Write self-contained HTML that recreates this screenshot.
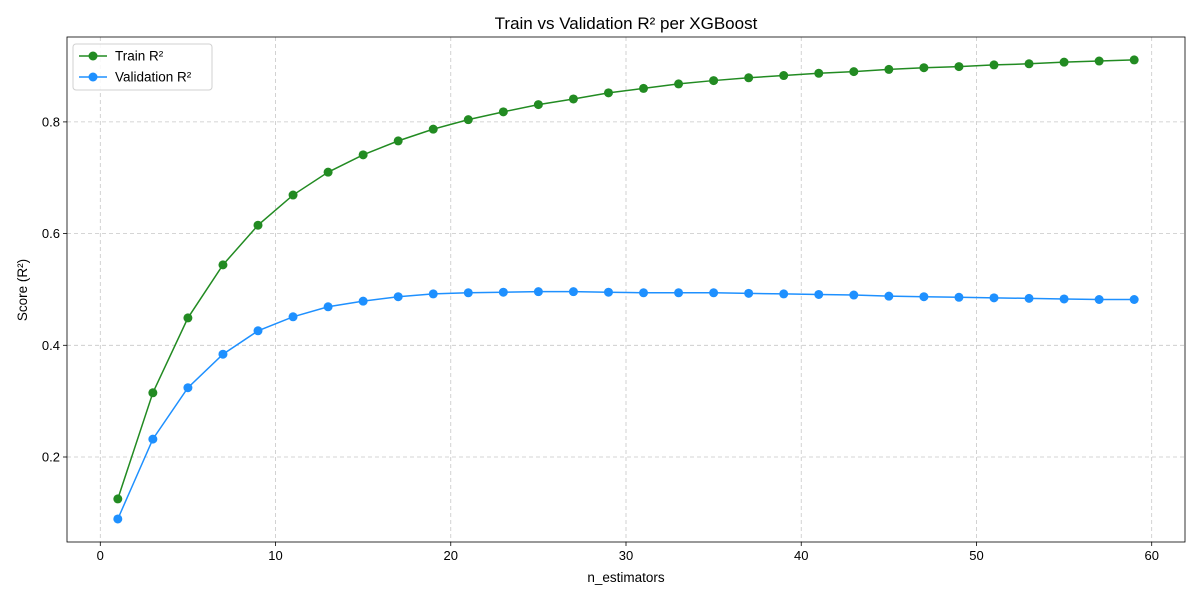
<!DOCTYPE html>
<html><head><meta charset="utf-8">
<style>
body{margin:0;background:#fff;font-family:"Liberation Sans","DejaVu Sans",sans-serif;}
svg{display:block}
text{font-family:"Liberation Sans","DejaVu Sans",sans-serif;}
</style></head>
<body>
<svg id="chart" width="1200" height="600"></svg>
<script>
const xValues=[1,3,5,7,9,11,13,15,17,19,21,23,25,27,29,31,33,35,37,39,41,43,45,47,49,51,53,55,57,59];
const trainR2=[0.125,0.315,0.449,0.544,0.615,0.669,0.710,0.741,0.766,0.787,0.804,0.818,0.831,0.841,0.852,0.860,0.868,0.874,0.879,0.883,0.887,0.890,0.894,0.897,0.899,0.902,0.904,0.907,0.909,0.911];
const valR2=[0.089,0.232,0.324,0.384,0.426,0.451,0.469,0.479,0.487,0.492,0.494,0.495,0.496,0.496,0.495,0.494,0.494,0.494,0.493,0.492,0.491,0.490,0.488,0.487,0.486,0.485,0.484,0.483,0.482,0.482];
const xTicks=[0,10,20,30,40,50,60];
const yTicks=[0.2,0.4,0.6,0.8];

const L=67,R=1185,T=37,B=542;
const xMin=-1.9,xMax=61.9,yMin=0.0478,yMax=0.952;
const sx=v=>L+(v-xMin)/(xMax-xMin)*(R-L);
const sy=v=>B-(v-yMin)/(yMax-yMin)*(B-T);
const NS="http://www.w3.org/2000/svg";
const svg=document.getElementById('chart');
function mk(tag,attrs,parent){const e=document.createElementNS(NS,tag);for(const k in attrs)e.setAttribute(k,attrs[k]);(parent||svg).appendChild(e);return e;}

xTicks.forEach(t=>{
  const g=mk('line',{x1:sx(t),x2:sx(t),y1:T,y2:B,stroke:'#b0b0b0','stroke-width':0.8,'stroke-dasharray':'4,3',opacity:0.7});
  
  
  mk('line',{x1:sx(t),x2:sx(t),y1:B,y2:B+4,stroke:'#000','stroke-width':0.8});
  const tx=mk('text',{x:sx(t),y:B+18,'text-anchor':'middle','font-size':13});
  tx.textContent=t;
  
  
});
yTicks.forEach(t=>{
  const g=mk('line',{x1:L,x2:R,y1:sy(t),y2:sy(t),stroke:'#b0b0b0','stroke-width':0.8,'stroke-dasharray':'4,3',opacity:0.7});
  
  
  mk('line',{x1:L-4,x2:L,y1:sy(t),y2:sy(t),stroke:'#000','stroke-width':0.8});
  const tx=mk('text',{x:L-7,y:sy(t)+4.5,'text-anchor':'end','font-size':13});
  tx.textContent=t.toFixed(1);
  
  
});
const frame=mk('rect',{x:L,y:T,width:R-L,height:B-T,fill:'none',stroke:'#000','stroke-width':0.8});



function series(vals,color,name){
  const pl=mk('polyline',{points:xValues.map((x,i)=>sx(x)+','+sy(vals[i])).join(' '),fill:'none',stroke:color,'stroke-width':1.5});
  
  
  xValues.forEach((x,i)=>{
    const c=mk('circle',{cx:sx(x),cy:sy(vals[i]),r:4.5,fill:color});
    
    
  });
}
series(trainR2,'#228b22','train');
series(valR2,'#1e90ff','validation');

const title=mk('text',{x:(L+R)/2,y:29,'text-anchor':'middle','font-size':17});
title.textContent='Train vs Validation R² per XGBoost';


const xl=mk('text',{x:(L+R)/2,y:582,'text-anchor':'middle','font-size':13.5});
xl.textContent='n_estimators';


const yl=mk('text',{x:0,y:0,'text-anchor':'middle','font-size':13.5,transform:'translate(27,290) rotate(-90)'});
yl.textContent='Score (R²)';



const lg=mk('g',{});


mk('rect',{x:73,y:44,width:139,height:46,rx:3,fill:'#fff',stroke:'#ccc','stroke-width':1,opacity:0.9},lg);
[['Train R²','#228b22',56],['Validation R²','#1e90ff',77]].forEach(([lab,col,y])=>{
  const e=mk('g',{},lg);
  
  
  mk('line',{x1:79,x2:107,y1:y,y2:y,stroke:col,'stroke-width':1.5},e);
  mk('circle',{cx:93,cy:y,r:4.5,fill:col},e);
  const t=mk('text',{x:115,y:y+4.5,'font-size':13.5},e);t.textContent=lab;
});
</script>
</body></html>
